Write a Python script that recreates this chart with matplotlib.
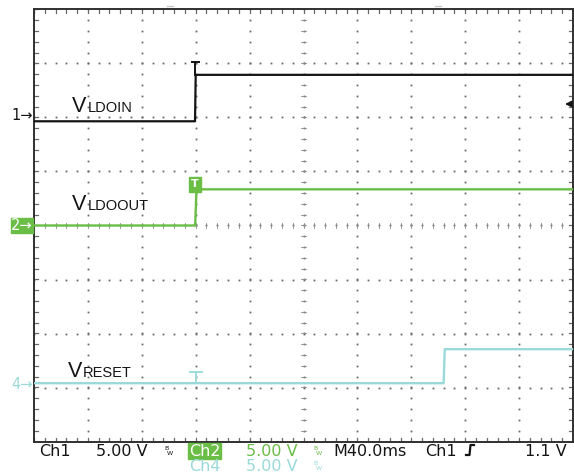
import numpy as np
import matplotlib
matplotlib.use('Agg')
import matplotlib.pyplot as plt
from matplotlib.patches import Rectangle
from matplotlib.lines import Line2D

# ---------------- data (read from the scope capture) ----------------
time_per_div_ms = 40.0
volts_per_div = 5.0
n_xdiv, n_ydiv = 10, 8

ch1_time_ms = [0, 119.5, 120.0, 400]
ch1_volts = [-0.5, -0.5, 3.8, 3.8]
ch2_time_ms = [0, 119.6, 120.6, 400]
ch2_volts = [0.0, 0.0, 3.35, 3.35]
ch4_time_ms = [0, 304.0, 304.8, 400]
ch4_volts = [0.15, 0.15, 3.3, 3.3]

ch1_offset_div = 2.03
ch2_offset_div = 0.0
ch4_offset_div = -2.95

trigger_time_ms = 119.5
trigger_level_v = 1.1

labels = ["LDOIN", "LDOOUT", "RESET"]

# ---------------- styling ----------------
BLACK = '#141414'
GREEN = '#6abd45'
CYAN = '#9ad9d9'
GRID = '#6a6a6a'

W, H = 574, 473
fig = plt.figure(figsize=(W / 100, H / 100), dpi=100)
fig.patch.set_facecolor('white')

ax = fig.add_axes([34 / W, 1 - 441.5 / H, 539 / W, 432 / H])
xmax = n_xdiv * time_per_div_ms
ax.set_xlim(0, xmax)
ax.set_ylim(-n_ydiv / 2, n_ydiv / 2)
ax.set_xticks([])
ax.set_yticks([])
for s in ax.spines.values():
    s.set_linewidth(1.4)
    s.set_color('#303030')

# graticule dots
ydots = np.arange(-4, 4.001, 0.2)
xdots = np.arange(0, xmax + 0.01, time_per_div_ms / 5)
for k in range(1, n_xdiv):
    ax.plot([k * time_per_div_ms] * len(ydots), ydots, ls='none', marker='s',
            ms=1.3, mew=0, color=GRID, zorder=1)
for k in range(-3, 4):
    ax.plot(xdots, [k] * len(xdots), ls='none', marker='s',
            ms=1.3, mew=0, color=GRID, zorder=1)

# center crosshair ticks
xc = xmax / 2
tick_x = 0.05 * time_per_div_ms
for xv in xdots:
    ax.plot([xv, xv], [-0.05, 0.05], color='#8a8a8a', lw=0.6, zorder=1)
for yv in ydots:
    ax.plot([xc - tick_x, xc + tick_x], [yv, yv], color='#8a8a8a', lw=0.6, zorder=1)
# border ticks
bt_y = 0.07
bt_x = 0.07 * time_per_div_ms
for xv in xdots:
    ax.plot([xv, xv], [4, 4 - bt_y], color=GRID, lw=0.9, zorder=1)
    ax.plot([xv, xv], [-4, -4 + bt_y], color=GRID, lw=0.9, zorder=1)
for yv in ydots:
    ax.plot([0, bt_x], [yv, yv], color=GRID, lw=0.9, zorder=1)
    ax.plot([xmax, xmax - bt_x], [yv, yv], color=GRID, lw=0.9, zorder=1)


def to_div(v, off):
    return np.asarray(v) / volts_per_div + off


# traces
ax.plot(ch1_time_ms, to_div(ch1_volts, ch1_offset_div), color=BLACK, lw=1.6, zorder=5)
ax.plot(ch2_time_ms, to_div(ch2_volts, ch2_offset_div), color=GREEN, lw=1.7, zorder=5)
ax.plot(ch4_time_ms, to_div(ch4_volts, ch4_offset_div), color=CYAN, lw=1.7, zorder=5)

# trigger "T" markers on each trace
half = 0.065 * time_per_div_ms
y1_top = to_div(ch1_volts[-1], ch1_offset_div) + 0.24
ax.plot([trigger_time_ms - half, trigger_time_ms + half], [y1_top, y1_top], color=BLACK, lw=1.4, zorder=6)
ax.plot([trigger_time_ms, trigger_time_ms], [y1_top, to_div(ch1_volts[-1], ch1_offset_div)], color=BLACK, lw=1.4, zorder=6)

y2c = to_div(ch2_volts[-1], ch2_offset_div) + 0.09
ax.add_patch(Rectangle((trigger_time_ms - 0.115 * time_per_div_ms, y2c - 0.14),
                       0.23 * time_per_div_ms, 0.28, color=GREEN, zorder=7))
ax.text(trigger_time_ms, y2c, 'T', color='white', fontsize=8, fontweight='bold',
        ha='center', va='center', zorder=8, family='DejaVu Sans')

y4_top = to_div(ch4_volts[0], ch4_offset_div) + 0.2
t4 = trigger_time_ms + 1.0
ax.plot([t4 - 0.11 * time_per_div_ms, t4 + 0.11 * time_per_div_ms], [y4_top, y4_top], color=CYAN, lw=1.3, zorder=6)
ax.plot([t4, t4], [y4_top, to_div(ch4_volts[0], ch4_offset_div)], color=CYAN, lw=1.3, zorder=6)

# trigger level arrow on right edge
yt = to_div(trigger_level_v, ch1_offset_div)
ax.annotate('', xy=(xmax - 0.2 * time_per_div_ms, yt), xytext=(xmax, yt),
            arrowprops=dict(arrowstyle='-|>', color=BLACK, lw=1.2, mutation_scale=9),
            zorder=8, annotation_clip=False)


def fx(x):
    return x / W


def fy(y):
    return 1 - y / H


# signal labels
SANS = 'Liberation Sans'
for (xv, yb, xs, sub) in [(72, 112, 88, labels[0]), (72, 210, 88, labels[1]), (68, 377, 83, labels[2])]:
    fig.text(fx(xv), fy(yb), 'V', fontsize=15.5, family=SANS, color=BLACK, ha='left', va='baseline')
    fig.text(fx(xs), fy(yb), sub, fontsize=10.5, family=SANS, color=BLACK, ha='left', va='baseline')

# channel ground markers on left
MONO = 'DejaVu Sans'
y1m = 225.5 - ch1_offset_div * 54
y4m = 225.5 - ch4_offset_div * 54
y2m = 225.5 - ch2_offset_div * 54
fig.text(fx(33), fy(y1m), '1\u2192', fontsize=10.5, family=MONO, color=BLACK, ha='right', va='center')
fig.patches.append(Rectangle((fx(11), fy(y2m + 7.5)), 22 / W, 15 / H, transform=fig.transFigure,
                             color=GREEN, figure=fig))
fig.text(fx(32), fy(y2m), '2\u2192', fontsize=10.5, family=MONO, color='white', ha='right', va='center')
fig.text(fx(33), fy(y4m), '4\u2192', fontsize=10.5, family=MONO, color=CYAN, ha='right', va='center')

# small top position markers
for xm in [167, 435]:
    fig.lines.append(Line2D([fx(xm), fx(xm + 6)], [fy(6), fy(6)], transform=fig.transFigure,
                            color='#c8c8c8', lw=1.0))

# bottom status text
FS = 11.5
b1, b2 = 455.5, 471


def bw(x, y, color):
    fig.text(fx(x), fy(y - 5), 'B', fontsize=4.5, family=MONO, color=color, ha='left', va='baseline')
    fig.text(fx(x + 3), fy(y), 'W', fontsize=4.5, family=MONO, color=color, ha='left', va='baseline')


fig.text(fx(39), fy(b1), 'Ch1', fontsize=FS, family=MONO, color=BLACK, va='baseline')
fig.text(fx(96), fy(b1), '5.00 V', fontsize=FS, family=MONO, color=BLACK, va='baseline')
bw(164, 455, BLACK)
fig.patches.append(Rectangle((fx(188), fy(458.5)), 33 / W, 16 / H, transform=fig.transFigure,
                             color=GREEN, figure=fig))
fig.text(fx(189.5), fy(b1), 'Ch2', fontsize=FS, family=MONO, color='white', va='baseline')
fig.text(fx(246), fy(b1), '5.00 V', fontsize=FS, family=MONO, color=GREEN, va='baseline')
bw(313, 455, GREEN)
fig.text(fx(333), fy(b1), 'M40.0ms', fontsize=FS, family=MONO, color=BLACK, va='baseline')
fig.text(fx(425), fy(b1), 'Ch1', fontsize=FS, family=MONO, color=BLACK, va='baseline')
# rising-edge trigger symbol
fig.lines.append(Line2D([fx(466), fx(469.5), fx(470.5), fx(474)],
                        [fy(455), fy(455), fy(445), fy(445)], transform=fig.transFigure,
                        color=BLACK, lw=1.6))
fig.text(fx(525), fy(b1), '1.1 V', fontsize=FS, family=MONO, color=BLACK, va='baseline')

fig.text(fx(189.5), fy(b2), 'Ch4', fontsize=FS, family=MONO, color=CYAN, va='baseline')
fig.text(fx(246), fy(b2), '5.00 V', fontsize=FS, family=MONO, color=CYAN, va='baseline')
bw(313, 470, CYAN)

fig.savefig('out.png', dpi=100, facecolor='white')
